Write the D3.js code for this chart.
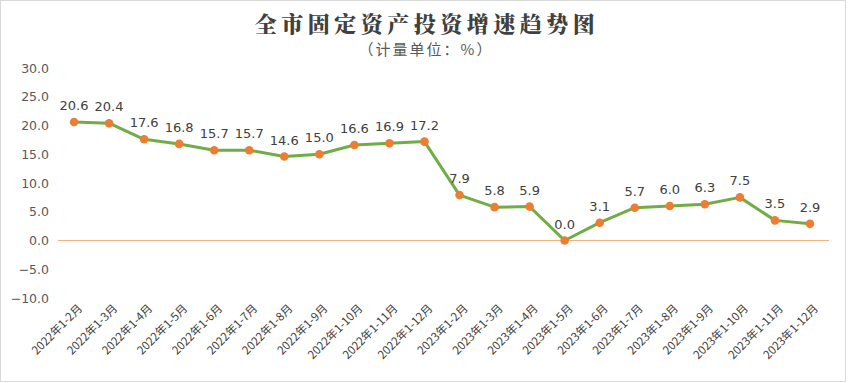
<!DOCTYPE html>
<html><head><meta charset="utf-8">
<script src="https://cdn.jsdelivr.net/npm/d3@7"></script>
<style>body{margin:0;background:#fff;}svg{display:block;}</style>
</head><body><svg id="c" width="849" height="383"></svg>
<script>
const categories = ["2022年1-2月","2022年1-3月","2022年1-4月","2022年1-5月","2022年1-6月","2022年1-7月","2022年1-8月","2022年1-9月","2022年1-10月","2022年1-11月","2022年1-12月","2023年1-2月","2023年1-3月","2023年1-4月","2023年1-5月","2023年1-6月","2023年1-7月","2023年1-8月","2023年1-9月","2023年1-10月","2023年1-11月","2023年1-12月"];
const values = [20.6,20.4,17.6,16.8,15.7,15.7,14.6,15.0,16.6,16.9,17.2,7.9,5.8,5.9,0.0,3.1,5.7,6.0,6.3,7.5,3.5,2.9];
const yTicks = [-10,-5,0,5,10,15,20,25,30];
const title = "全市固定资产投资增速趋势图";
const subtitle = "（计量单位：%）";

const svg = d3.select("#c");
svg.append("rect").attr("x",0.5).attr("y",0.5).attr("width",845).attr("height",381)
  .attr("fill","#fff").attr("stroke","#d9d9d9");

const x = d3.scaleBand().domain(categories).range([56.5,827.5]);
const y = d3.scaleLinear().domain([-10,30]).range([298,68]);
const font = "'Noto Sans CJK SC','Noto Sans',sans-serif";

svg.append("text").attr("x",427).attr("y",32).attr("text-anchor","middle")
  .attr("font-family","'Noto Serif CJK SC','Noto Sans CJK SC',serif").attr("font-weight","900")
  .attr("font-size",22).attr("fill","#404040").attr("letter-spacing",4.5).text(title);
svg.append("text").attr("x",426).attr("y",55).attr("text-anchor","middle")
  .attr("font-family",font).attr("font-size",15).attr("fill","#595959").attr("letter-spacing",2).text(subtitle);

// y axis labels
const yAxis = d3.axisLeft(y).tickValues(yTicks).tickFormat(d3.format(".1f")).tickSize(0).tickPadding(0);
const ya = svg.append("g").attr("transform","translate(49,0)").call(yAxis);
ya.select(".domain").remove();
ya.selectAll("text").attr("font-family","'DejaVu Sans',sans-serif").attr("font-size",12.5).attr("fill","#595959");

// zero line
svg.append("line").attr("x1",58).attr("x2",829).attr("y1",y(0)).attr("y2",y(0))
  .attr("stroke","#F4B183").attr("stroke-width",1);

// x axis labels
const xAxis = d3.axisBottom(x).tickSize(0).tickPadding(0);
const xa = svg.append("g").attr("transform","translate(0,306)").call(xAxis);
xa.select(".domain").remove();
xa.selectAll("text").attr("font-family",font).attr("font-size",11.5).attr("fill","#404040")
  .attr("text-anchor","end").attr("dy",0)
  .attr("transform","translate(9,3) rotate(-45)");

const cx = d => x(d) + x.bandwidth()/2;
const line = d3.line().x((d,i)=>cx(categories[i])).y(d=>y(d));
svg.append("path").datum(values).attr("d",line).attr("fill","none")
  .attr("stroke","#70AD47").attr("stroke-width",3).attr("stroke-linejoin","round");

svg.selectAll("circle.pt").data(values).enter().append("circle")
  .attr("cx",(d,i)=>cx(categories[i])).attr("cy",d=>y(d)).attr("r",4.3).attr("fill","#ED7D31");

svg.selectAll("text.lbl").data(values).enter().append("text")
  .attr("x",(d,i)=>cx(categories[i])).attr("y",d=>y(d)-12).attr("text-anchor","middle")
  .attr("font-family","'DejaVu Sans',sans-serif").attr("font-size",13).attr("fill","#404040")
  .text(d=>d.toFixed(1));
</script></body></html>
